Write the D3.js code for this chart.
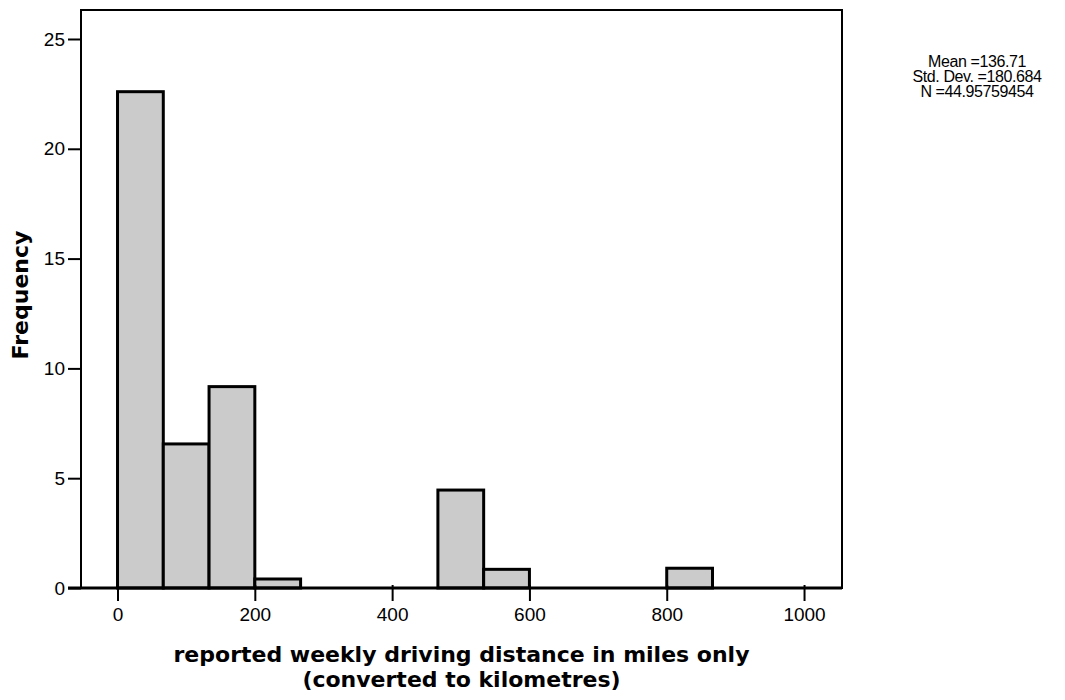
<!DOCTYPE html>
<html>
<head>
<meta charset="utf-8">
<script src="https://cdn.jsdelivr.net/npm/d3@7"></script>
<style>
  body { margin: 0; background: #fff; }
  .tick text { font-family: "Liberation Sans", Arial, sans-serif; font-size: 19px; fill: #000; }
  .title { font-family: "DejaVu Sans", Verdana, sans-serif; font-weight: bold; font-size: 22px; fill: #000; }
  .stats { font-family: "Liberation Sans", Arial, sans-serif; font-size: 16px; fill: #000; letter-spacing: -0.4px; }
</style>
</head>
<body>
<svg width="1065" height="700"></svg>
<script>
// histogram bins (start of bin) and weighted frequencies
var binStarts = [0, 66.67, 133.33, 200, 466.67, 533.33, 800];
var binWidth = 66.67;
var frequencies = [22.6, 6.56, 9.17, 0.41, 4.46, 0.85, 0.9];

var xTicks = [0, 200, 400, 600, 800, 1000];
var yTicks = [0, 5, 10, 15, 20, 25];

var statLines = ["Mean =136.71", "Std. Dev. =180.684", "N =44.95759454"];
var xTitle = ["reported weekly driving distance in miles only", "(converted to kilometres)"];
var yTitle = "Frequency";

var svg = d3.select("svg"),
    plot = {left: 81, top: 10, right: 842, bottom: 588};

var x = d3.scaleLinear().domain([-53.2, 1055.3]).range([plot.left, plot.right]),
    y = d3.scaleLinear().domain([0, 26.32]).range([plot.bottom, plot.top]);

var bins = binStarts.map(function(s, i) { return {x0: s, x1: s + binWidth, f: frequencies[i]}; });

// bars
svg.append("g").selectAll("rect")
    .data(bins)
  .enter().append("rect")
    .attr("x", function(d) { return x(d.x0); })
    .attr("y", function(d) { return y(d.f); })
    .attr("width", function(d) { return x(d.x1) - x(d.x0); })
    .attr("height", function(d) { return y(0) - y(d.f); })
    .style("fill", "#cbcbcb")
    .style("stroke", "#000")
    .style("stroke-width", 3);

// frame
svg.append("rect")
    .attr("x", plot.left)
    .attr("y", plot.top)
    .attr("width", plot.right - plot.left)
    .attr("height", plot.bottom - plot.top)
    .style("fill", "none")
    .style("stroke", "#000")
    .style("stroke-width", 2);

// axes
var xAxis = d3.axisBottom(x).tickValues(xTicks).tickSize(13).tickPadding(7).tickFormat(d3.format("d"));
var yAxis = d3.axisLeft(y).tickValues(yTicks).tickSize(13).tickPadding(3).tickFormat(d3.format("d"));

var gx = svg.append("g")
    .attr("transform", "translate(0," + plot.bottom + ")")
    .call(xAxis);
gx.select(".domain").remove();
gx.selectAll(".tick line").attr("y1", -3).style("stroke-width", 2);

var gy = svg.append("g")
    .attr("transform", "translate(" + plot.left + ",0)")
    .call(yAxis);
gy.select(".domain").remove();
gy.selectAll(".tick line").style("stroke-width", 2);

// heavy baseline
svg.append("line")
    .attr("x1", plot.left - 13).attr("x2", plot.right)
    .attr("y1", plot.bottom).attr("y2", plot.bottom)
    .style("stroke", "#000")
    .style("stroke-width", 3);

// titles
svg.append("text")
    .attr("class", "title")
    .attr("text-anchor", "middle")
    .attr("transform", "translate(28," + 295 + ") rotate(-90)")
    .text(yTitle);

svg.append("g").selectAll("text")
    .data(xTitle)
  .enter().append("text")
    .attr("class", "title")
    .attr("text-anchor", "middle")
    .attr("x", (plot.left + plot.right) / 2)
    .attr("y", function(d, i) { return 662 + i * 25; })
    .text(function(d) { return d; });

// summary statistics
svg.append("g").selectAll("text")
    .data(statLines)
  .enter().append("text")
    .attr("class", "stats")
    .attr("text-anchor", "middle")
    .attr("x", 977)
    .attr("y", function(d, i) { return 67 + i * 15; })
    .text(function(d) { return d; });
</script>
</body>
</html>
